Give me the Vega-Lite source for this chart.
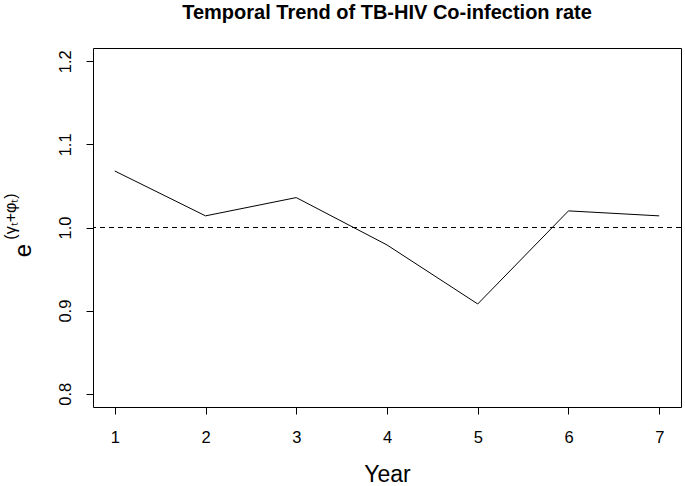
{
  "$schema": "https://vega.github.io/schema/vega-lite/v6.json",
  "width": 588,
  "height": 359,
  "autosize": {"type": "none"},
  "padding": {"left": 93, "top": 48, "right": 4, "bottom": 79},
  "background": "white",
  "config": {
    "view": {"stroke": "#000000", "strokeWidth": 1},
    "font": "Liberation Sans",
    "axis": {"grid": false, "domain": false, "tickColor": "#000000", "tickSize": 7, "labelColor": "#000000", "titleColor": "#000000", "labelFont": "Liberation Sans", "titleFont": "Liberation Sans", "titleFontWeight": "normal"}
  },
  "title": {
    "text": "Temporal Trend of TB-HIV Co-infection rate",
    "font": "Liberation Sans",
    "fontSize": 20,
    "fontWeight": "bold",
    "color": "#000000",
    "anchor": "middle",
    "offset": 25
  },
  "layer": [
    {
      "data": {"values": [
        {"year": 1, "value": 1.068},
        {"year": 2, "value": 1.014},
        {"year": 3, "value": 1.036},
        {"year": 4, "value": 0.979},
        {"year": 5, "value": 0.908},
        {"year": 6, "value": 1.020},
        {"year": 7, "value": 1.014}
      ]},
      "mark": {"type": "line", "color": "#000000", "strokeWidth": 1},
      "encoding": {
        "x": {
          "field": "year", "type": "quantitative",
          "scale": {"domain": [0.76, 7.24], "nice": false, "zero": false},
          "axis": {"values": [1, 2, 3, 4, 5, 6, 7], "title": "Year", "labelFontSize": 16.5, "labelPadding": 15, "titleFontSize": 23, "titlePadding": 18}
        },
        "y": {
          "field": "value", "type": "quantitative",
          "scale": {"domain": [0.784, 1.216], "nice": false, "zero": false},
          "axis": {"values": [0.8, 0.9, 1.0, 1.1, 1.2], "format": ".1f", "labelAngle": 270, "labelAlign": "center", "labelBaseline": "alphabetic", "labelFontSize": 16.5, "labelPadding": 16, "title": "e", "titleFontSize": 24, "titleAngle": 270, "titleAlign": "center", "titleBaseline": "alphabetic", "titleX": -63, "titleY": 202}
        }
      }
    },
    {
      "data": {"values": [{"ref": 1.0}]},
      "mark": {"type": "rule", "color": "#000000", "strokeWidth": 1, "strokeDash": [5, 4]},
      "encoding": {
        "y": {
          "field": "ref", "type": "quantitative",
          "axis": {"orient": "left", "labels": false, "ticks": false, "domain": false, "title": "(γₜ+φₜ)", "titleFontSize": 16, "titleAngle": 270, "titleAlign": "center", "titleBaseline": "alphabetic", "titleX": -78, "titleY": 168}
        }
      }
    }
  ],
  "resolve": {"axis": {"y": "independent"}}
}
